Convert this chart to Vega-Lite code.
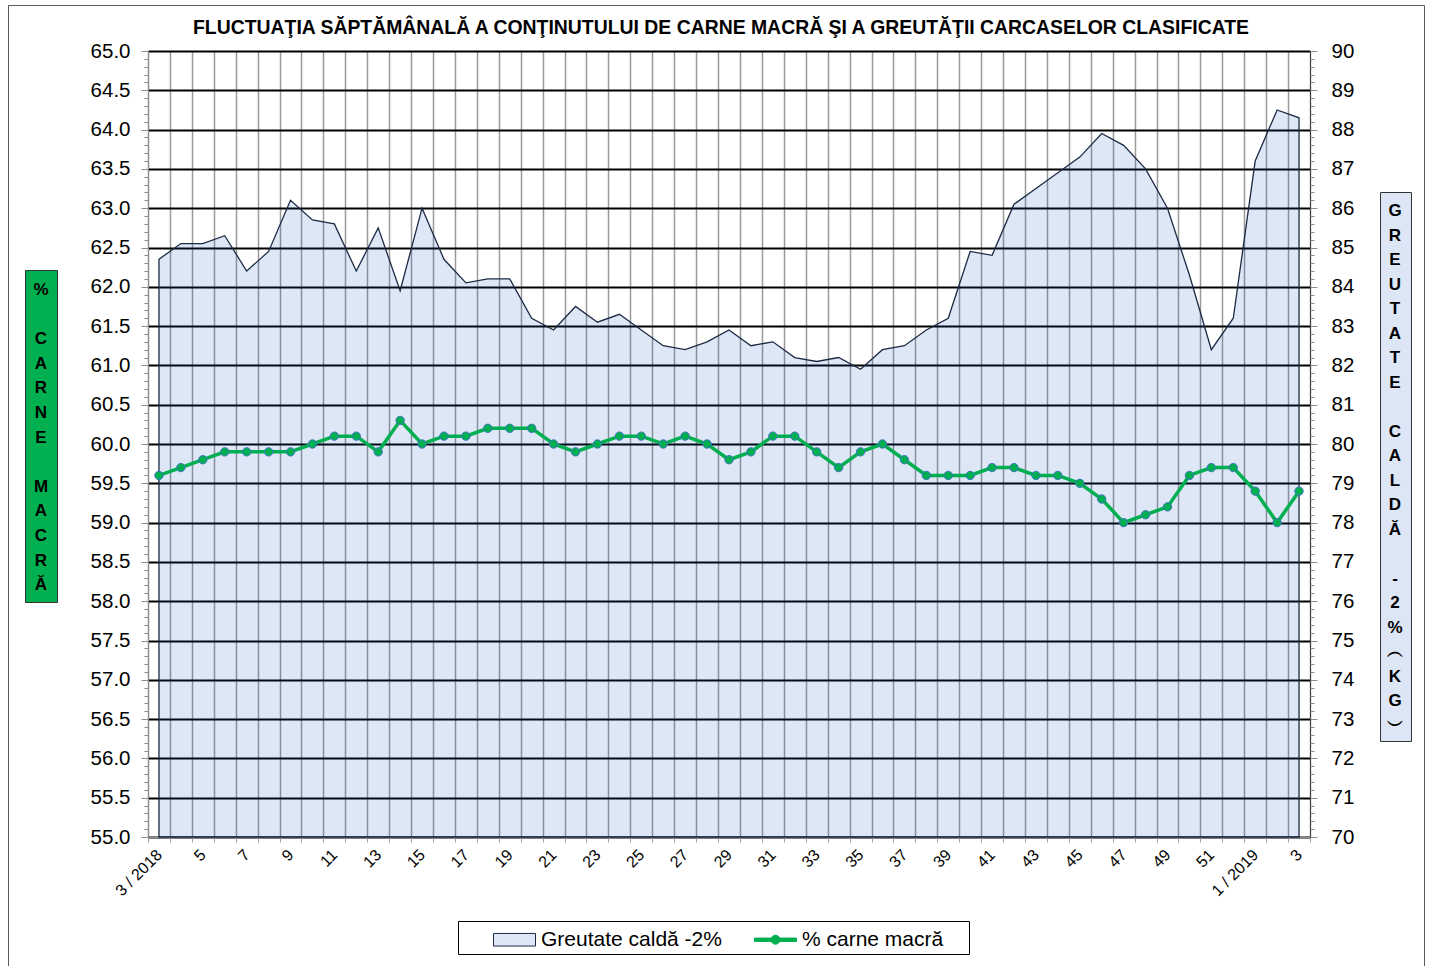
{
  "$schema": "https://vega.github.io/schema/vega-lite/v6.json",
  "width": 1162,
  "height": 786,
  "autosize": {"type": "none"},
  "padding": {"left": 148, "top": 51, "right": 121, "bottom": 129},
  "background": "white",
  "title": {
    "text": "FLUCTUAŢIA SĂPTĂMÂNALĂ  A CONŢINUTULUI DE CARNE MACRĂ ŞI A GREUTĂŢII CARCASELOR CLASIFICATE",
    "fontSize": 19.4, "fontWeight": "bold", "font": "Liberation Sans", "color": "black",
    "frame": "group", "offset": 2, "anchor": "middle", "dx": -8, "dy": 36
  },
  "config": {
    "font": "Liberation Sans",
    "view": {"stroke": null},
    "legend": {"symbolFillColor": "#dce6f5", "symbolStrokeColor": "#1c2a44"}
  },
  "datasets": {
    "saptamani": [
      {"sapt": "3 / 2018", "greutate": 84.7, "carne": 59.6},
      {"sapt": "4", "greutate": 85.1, "carne": 59.7},
      {"sapt": "5", "greutate": 85.1, "carne": 59.8},
      {"sapt": "6", "greutate": 85.3, "carne": 59.9},
      {"sapt": "7", "greutate": 84.4, "carne": 59.9},
      {"sapt": "8", "greutate": 84.9, "carne": 59.9},
      {"sapt": "9", "greutate": 86.2, "carne": 59.9},
      {"sapt": "10", "greutate": 85.7, "carne": 60.0},
      {"sapt": "11", "greutate": 85.6, "carne": 60.1},
      {"sapt": "12", "greutate": 84.4, "carne": 60.1},
      {"sapt": "13", "greutate": 85.5, "carne": 59.9},
      {"sapt": "14", "greutate": 83.9, "carne": 60.3},
      {"sapt": "15", "greutate": 86.0, "carne": 60.0},
      {"sapt": "16", "greutate": 84.7, "carne": 60.1},
      {"sapt": "17", "greutate": 84.1, "carne": 60.1},
      {"sapt": "18", "greutate": 84.2, "carne": 60.2},
      {"sapt": "19", "greutate": 84.2, "carne": 60.2},
      {"sapt": "20", "greutate": 83.2, "carne": 60.2},
      {"sapt": "21", "greutate": 82.9, "carne": 60.0},
      {"sapt": "22", "greutate": 83.5, "carne": 59.9},
      {"sapt": "23", "greutate": 83.1, "carne": 60.0},
      {"sapt": "24", "greutate": 83.3, "carne": 60.1},
      {"sapt": "25", "greutate": 82.9, "carne": 60.1},
      {"sapt": "26", "greutate": 82.5, "carne": 60.0},
      {"sapt": "27", "greutate": 82.4, "carne": 60.1},
      {"sapt": "28", "greutate": 82.6, "carne": 60.0},
      {"sapt": "29", "greutate": 82.9, "carne": 59.8},
      {"sapt": "30", "greutate": 82.5, "carne": 59.9},
      {"sapt": "31", "greutate": 82.6, "carne": 60.1},
      {"sapt": "32", "greutate": 82.2, "carne": 60.1},
      {"sapt": "33", "greutate": 82.1, "carne": 59.9},
      {"sapt": "34", "greutate": 82.2, "carne": 59.7},
      {"sapt": "35", "greutate": 81.9, "carne": 59.9},
      {"sapt": "36", "greutate": 82.4, "carne": 60.0},
      {"sapt": "37", "greutate": 82.5, "carne": 59.8},
      {"sapt": "38", "greutate": 82.9, "carne": 59.6},
      {"sapt": "39", "greutate": 83.2, "carne": 59.6},
      {"sapt": "40", "greutate": 84.9, "carne": 59.6},
      {"sapt": "41", "greutate": 84.8, "carne": 59.7},
      {"sapt": "42", "greutate": 86.1, "carne": 59.7},
      {"sapt": "43", "greutate": 86.5, "carne": 59.6},
      {"sapt": "44", "greutate": 86.9, "carne": 59.6},
      {"sapt": "45", "greutate": 87.3, "carne": 59.5},
      {"sapt": "46", "greutate": 87.9, "carne": 59.3},
      {"sapt": "47", "greutate": 87.6, "carne": 59.0},
      {"sapt": "48", "greutate": 87.0, "carne": 59.1},
      {"sapt": "49", "greutate": 86.0, "carne": 59.2},
      {"sapt": "50", "greutate": 84.3, "carne": 59.6},
      {"sapt": "51", "greutate": 82.4, "carne": 59.7},
      {"sapt": "52", "greutate": 83.2, "carne": 59.7},
      {"sapt": "1 / 2019", "greutate": 87.2, "carne": 59.4},
      {"sapt": "2", "greutate": 88.5, "carne": 59.0},
      {"sapt": "3", "greutate": 88.3, "carne": 59.4}
    ],
    "legenda": [
      {"serie": "Greutate caldă -2%", "stanga": "% CARNE MACRĂ", "dreapta": "GREUTATE CALDĂ - 2% (KG)", "cadru": "chenar"},
      {"serie": "% carne macră", "stanga": "% CARNE MACRĂ", "dreapta": "GREUTATE CALDĂ - 2% (KG)", "cadru": "chenar"}
    ]
  },
  "layer": [
    {
      "data": {"name": "saptamani"},
      "mark": {"type": "area", "fill": "#004bbc", "fillOpacity": 0.133, "stroke": "#1c2a44", "strokeWidth": 1.3, "line": false},
      "encoding": {
        "x": {
          "field": "sapt", "type": "nominal", "sort": null,
          "scale": {"type": "band", "paddingInner": 0, "paddingOuter": 0},
          "axis": {
            "title": null, "tickBand": "extent", "grid": true, "gridColor": "#9a9a9a", "gridWidth": 1.5,
            "tickSize": 5, "tickColor": "#9a9a9a", "domainColor": "#8c8c8c",
            "labelAngle": -45, "labelAlign": "right", "labelBaseline": "middle",
            "labelFontSize": 16, "labelColor": "black", "labelPadding": 10, "labelOverlap": false,
            "labelExpr": "isNaN(toNumber(datum.value)) || toNumber(datum.value) % 2 == 1 ? datum.label : ''"
          }
        },
        "y": {
          "field": "greutate", "type": "quantitative",
          "scale": {"domain": [70, 90], "nice": false, "zero": false},
          "axis": {
            "orient": "right", "title": null, "grid": false,
            "values": [70, 71, 72, 73, 74, 75, 76, 77, 78, 79, 80, 81, 82, 83, 84, 85, 86, 87, 88, 89, 90],
            "format": "d", "tickSize": 7, "tickColor": "#8c8c8c", "domainColor": "#404040",
            "labelFontSize": 20.5, "labelColor": "black", "labelPadding": 14
          }
        },
        "y2": {"datum": 70}
      }
    },
    {
      "data": {"name": "saptamani"},
      "mark": {"type": "line", "color": "#00b050", "strokeWidth": 3.5},
      "encoding": {
        "x": {"field": "sapt", "type": "nominal", "sort": null, "scale": {"type": "band", "paddingInner": 0, "paddingOuter": 0}},
        "y": {
          "field": "carne", "type": "quantitative",
          "scale": {"domain": [55, 65], "nice": false, "zero": false},
          "axis": {
            "orient": "left", "title": null, "grid": true, "gridColor": "#000000", "gridWidth": 2,
            "values": [55, 55.5, 56, 56.5, 57, 57.5, 58, 58.5, 59, 59.5, 60, 60.5, 61, 61.5, 62, 62.5, 63, 63.5, 64, 64.5, 65],
            "format": ".1f", "tickSize": 7, "tickColor": "#8c8c8c", "domainColor": "#8c8c8c",
            "labelFontSize": 20.5, "labelColor": "black", "labelPadding": 11
          }
        }
      }
    },
    {
      "data": {"name": "saptamani"},
      "mark": {"type": "point", "shape": "circle", "filled": true, "size": 70, "fill": "#00b050", "stroke": "#4472c4", "strokeWidth": 1, "opacity": 1},
      "encoding": {
        "x": {"field": "sapt", "type": "nominal", "sort": null, "scale": {"type": "band", "paddingInner": 0, "paddingOuter": 0}},
        "y": {
          "field": "carne", "type": "quantitative",
          "scale": {"domain": [55, 65], "nice": false, "zero": false},
          "axis": {"orient": "left", "title": null, "grid": false, "tickCount": 100, "labels": false, "domain": false, "tickSize": 4, "tickColor": "#8c8c8c"}
        }
      }
    },
    {
      "data": {"name": "saptamani"},
      "mark": {"type": "point", "opacity": 0},
      "encoding": {
        "x": {"field": "sapt", "type": "nominal", "sort": null, "scale": {"type": "band", "paddingInner": 0, "paddingOuter": 0}},
        "y": {
          "field": "greutate", "type": "quantitative",
          "scale": {"domain": [70, 90], "nice": false, "zero": false},
          "axis": {"orient": "right", "title": null, "grid": false, "tickCount": 100, "labels": false, "domain": false, "tickSize": 4, "tickColor": "#8c8c8c"}
        }
      }
    },
    {
      "data": {"name": "legenda"},
      "mark": {"type": "point", "filled": true, "opacity": 0},
      "encoding": {
        "fill": {
          "field": "serie", "type": "nominal",
          "scale": {"domain": ["Greutate caldă -2%", "% carne macră"], "range": ["#dce6f5", "#00b050"]},
          "legend": {
            "orient": "none", "legendX": 310, "legendY": 870, "direction": "horizontal",
            "title": "\u00a0", "titleOrient": "left", "titlePadding": 38, "titleFontSize": 19,
            "padding": 4, "strokeColor": "#000000", "fillColor": "#ffffff",
            "labelFontSize": 21, "labelColor": "black", "labelLimit": 400, "labelOffset": 12,
            "columnPadding": 30, "symbolSize": 784, "symbolStrokeWidth": 1, "symbolOpacity": 1,
            "labelExpr": "datum.value == '% carne macră' ? datum.label + '\u00a0\u2800' : datum.label"
          }
        },
        "stroke": {
          "field": "serie", "type": "nominal",
          "scale": {"domain": ["Greutate caldă -2%", "% carne macră"], "range": ["#1c2a44", "#00b050"]}
        },
        "shape": {
          "field": "serie", "type": "nominal",
          "scale": {"domain": ["Greutate caldă -2%", "% carne macră"], "range": ["M-1.5,-0.45H1.5V0.45H-1.5Z", "M-1.5,-0.12H1.5V0.12H-1.5Z M0,-0.32A0.32,0.32 0 1 1 0,0.32A0.32,0.32 0 1 1 0,-0.32Z"]}
        },
        "strokeDash": {
          "field": "stanga", "type": "nominal",
          "legend": {
            "orient": "none", "legendX": -123, "legendY": 219,
            "title": ["%", "\u200b", "C", "A", "R", "N", "E", "\u200b", "M", "A", "C", "R", "Ă"],
            "titleFontSize": 17, "titleFontWeight": "bold", "titleColor": "black", "titleLineHeight": 24.6,
            "titleBaseline": "line-top",
            "titleAnchor": "middle", "titleAlign": "center", "titlePadding": 0, "titleLimit": 1000,
            "padding": 8, "fillColor": "#00b050", "strokeColor": "#333333",
            "symbolOpacity": 0, "symbolSize": 1, "labelExpr": "''", "labelFontSize": 1
          }
        },
        "size": {
          "field": "dreapta", "type": "ordinal",
          "scale": {"range": [1]},
          "legend": {
            "orient": "none", "legendX": 1232, "legendY": 141,
            "title": ["G", "R", "E", "U", "T", "A", "T", "E", "\u200b", "C", "A", "L", "D", "Ă", "\u200b", "-", "2", "%", "︵", "K", "G", "︶"],
            "titleFontSize": 17, "titleFontWeight": "bold", "titleColor": "black", "titleLineHeight": 24.5,
            "titleBaseline": "line-top",
            "titleAnchor": "middle", "titleAlign": "center", "titlePadding": 0, "titleLimit": 1000,
            "padding": 7, "fillColor": "#dce6f5", "strokeColor": "#333333",
            "symbolOpacity": 0, "labelExpr": "''", "labelFontSize": 1
          }
        },
        "strokeWidth": {
          "field": "cadru", "type": "ordinal",
          "scale": {"range": [0]},
          "legend": {
            "orient": "none", "legendX": -140, "legendY": -46,
            "title": "_", "titleOrient": "left", "titleAnchor": "start",
            "titleFontSize": 10, "titleFontWeight": "normal", "titleColor": "transparent",
            "titlePadding": 445, "titleLimit": 5000,
            "padding": 0, "strokeColor": "#595959",
            "symbolOpacity": 0, "symbolSize": 3724900, "labelOffset": 0,
            "labelExpr": "''", "labelFontSize": 1
          }
        }
      }
    }
  ],
  "resolve": {"scale": {"y": "independent"}, "axis": {"y": "independent"}}
}
